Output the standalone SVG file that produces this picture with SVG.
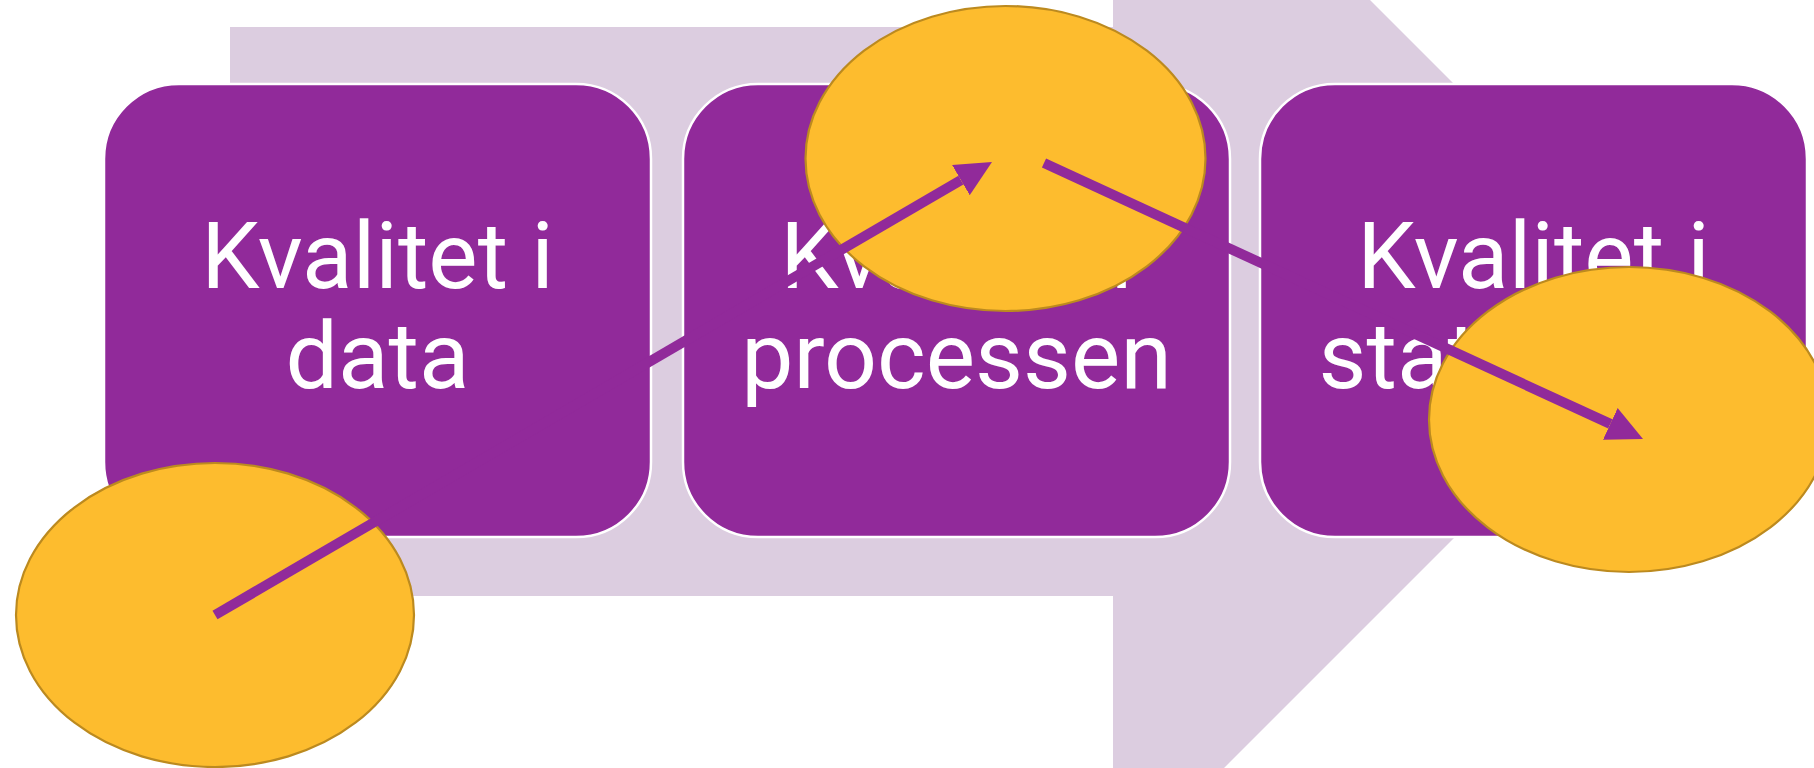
<svg xmlns="http://www.w3.org/2000/svg" width="1814" height="768" viewBox="0 0 1814 768">
<style>
.bg{fill:#DCCDE0}
.box{fill:#912A9A;stroke:#FFFFFF;stroke-width:2.5}
.lbl{fill:#FFFFFF;font-family:Roboto,"Liberation Sans",sans-serif;font-size:93px;text-anchor:middle}
.ell{fill:#FDBC2E;stroke:#BC8A1F;stroke-width:2.2}
.con{stroke:#912A9A;stroke-width:10;fill:none}
</style>
<defs>
<marker id="ah" viewBox="0 0 36 35" refX="0" refY="17.5" markerWidth="36" markerHeight="35" markerUnits="userSpaceOnUse" orient="auto">
<path d="M0,0 L36,17.5 L0,35 Z" fill="#912A9A"/>
</marker>
</defs>
<rect width="1814" height="768" fill="#FFFFFF"/>
<polygon id="background-arrow" class="bg" points="230,27 1113,27 1113,-257 1681,311 1113,879 1113,596 230,596"/>
<g id="node-data">
<rect class="box" x="104" y="84" width="547" height="453" rx="75" ry="75"/>
<text class="lbl" x="377.5" y="287.5">Kvalitet i</text>
<text class="lbl" x="377.5" y="388">data</text>
</g>
<g id="node-processen">
<rect class="box" x="683" y="84" width="547" height="453" rx="75" ry="75"/>
<text class="lbl" x="956.5" y="287.5">Kvalitet i</text>
<text class="lbl" x="956.5" y="388">processen</text>
</g>
<g id="node-statistiken">
<rect class="box" x="1260" y="84" width="547" height="453" rx="75" ry="75"/>
<text class="lbl" x="1533.5" y="287.5">Kvalitet i</text>
<text class="lbl" x="1533.5" y="388">statistiken</text>
</g>
<g id="node-circle-1"><ellipse class="ell" cx="215" cy="615" rx="199" ry="152"/></g>
<g id="node-circle-2"><ellipse class="ell" cx="1005.5" cy="158.5" rx="200" ry="152.5"/></g>
<g id="node-circle-3"><ellipse class="ell" cx="1629" cy="419.5" rx="200" ry="152.5"/></g>
<g id="connectors">
<line class="con" x1="215" y1="615" x2="960.9" y2="180.1" marker-end="url(#ah)"/>
<line class="con" x1="1044" y1="163" x2="1610.3" y2="423.9" marker-end="url(#ah)"/>
</g>
</svg>
